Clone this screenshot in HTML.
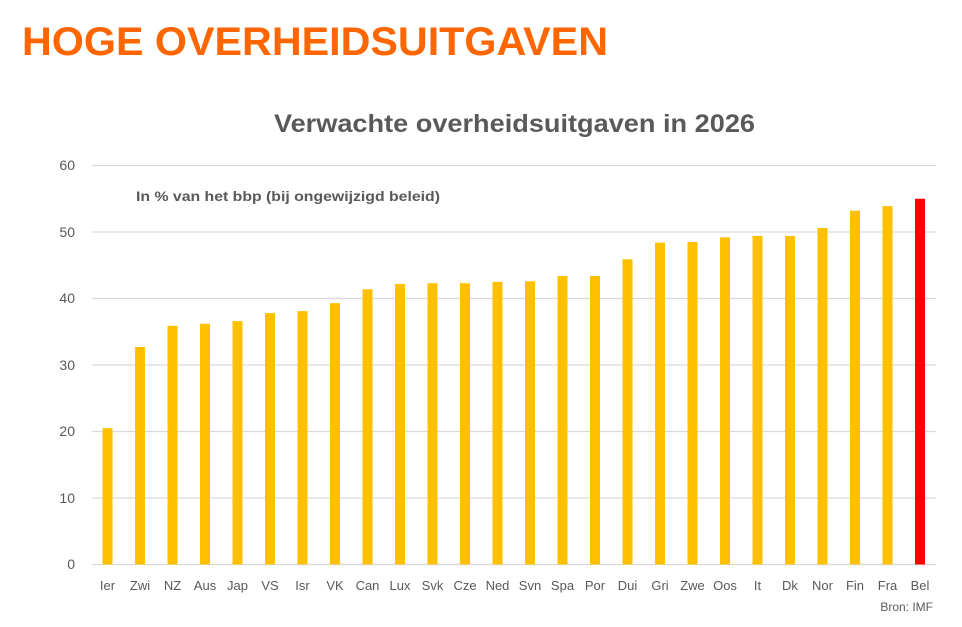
<!DOCTYPE html><html><head><meta charset="utf-8"><style>body{margin:0;background:#fff;width:962px;height:622px;overflow:hidden}</style></head><body>
<svg width="962" height="622" xmlns="http://www.w3.org/2000/svg" font-family="Liberation Sans, sans-serif">
<text x="22" y="55" font-size="40" font-weight="bold" fill="#ff6600" textLength="586" lengthAdjust="spacingAndGlyphs">HOGE OVERHEIDSUITGAVEN</text>
<text x="274" y="132" font-size="25" font-weight="bold" fill="#595959" textLength="481" lengthAdjust="spacingAndGlyphs">Verwachte overheidsuitgaven in 2026</text>
<text x="136" y="201" font-size="14" font-weight="bold" fill="#595959" textLength="304" lengthAdjust="spacingAndGlyphs">In % van het bbp (bij ongewijzigd beleid)</text>
<g stroke="#d9d9d9" stroke-width="1.3">
<line x1="92" x2="936" y1="165.5" y2="165.5"/><line x1="92" x2="936" y1="232" y2="232"/><line x1="92" x2="936" y1="298.5" y2="298.5"/><line x1="92" x2="936" y1="365" y2="365"/><line x1="92" x2="936" y1="431.5" y2="431.5"/><line x1="92" x2="936" y1="498" y2="498"/><line x1="92" x2="936" y1="564.5" y2="564.5"/>
</g>
<g font-size="14" fill="#595959" text-anchor="end">
<text x="75" y="170">60</text><text x="75" y="237">50</text><text x="75" y="303">40</text><text x="75" y="370">30</text><text x="75" y="436">20</text><text x="75" y="503">10</text><text x="75" y="569">0</text>
</g>
<g id="bars"></g>
<g id="labels" font-size="13" fill="#595959" text-anchor="middle"></g>
<text x="933" y="611" font-size="12" fill="#595959" text-anchor="end">Bron: IMF</text>
<script>
var n=["Ier","Zwi","NZ","Aus","Jap","VS","Isr","VK","Can","Lux","Svk","Cze","Ned","Svn","Spa","Por","Dui","Gri","Zwe","Oos","It","Dk","Nor","Fin","Fra","Bel"];
var v=[20.5,32.7,35.9,36.2,36.6,37.8,38.1,39.3,41.4,42.2,42.3,42.3,42.5,42.6,43.4,43.4,45.9,48.4,48.5,49.2,49.4,49.4,50.6,53.2,53.9,55.0];
var b=document.getElementById("bars"),l=document.getElementById("labels"),ns="http://www.w3.org/2000/svg";
for(var i=0;i<26;i++){var cx=107.5+i*32.5,h=v[i]*6.65;var r=document.createElementNS(ns,"rect");r.setAttribute("x",cx-5);r.setAttribute("y",564.5-h);r.setAttribute("width",10);r.setAttribute("height",h);r.setAttribute("fill",i==25?"#ff0000":"#ffc000");b.appendChild(r);
var t=document.createElementNS(ns,"text");t.setAttribute("x",cx);t.setAttribute("y",590);t.textContent=n[i];l.appendChild(t);}
</script>
</svg></body></html>
